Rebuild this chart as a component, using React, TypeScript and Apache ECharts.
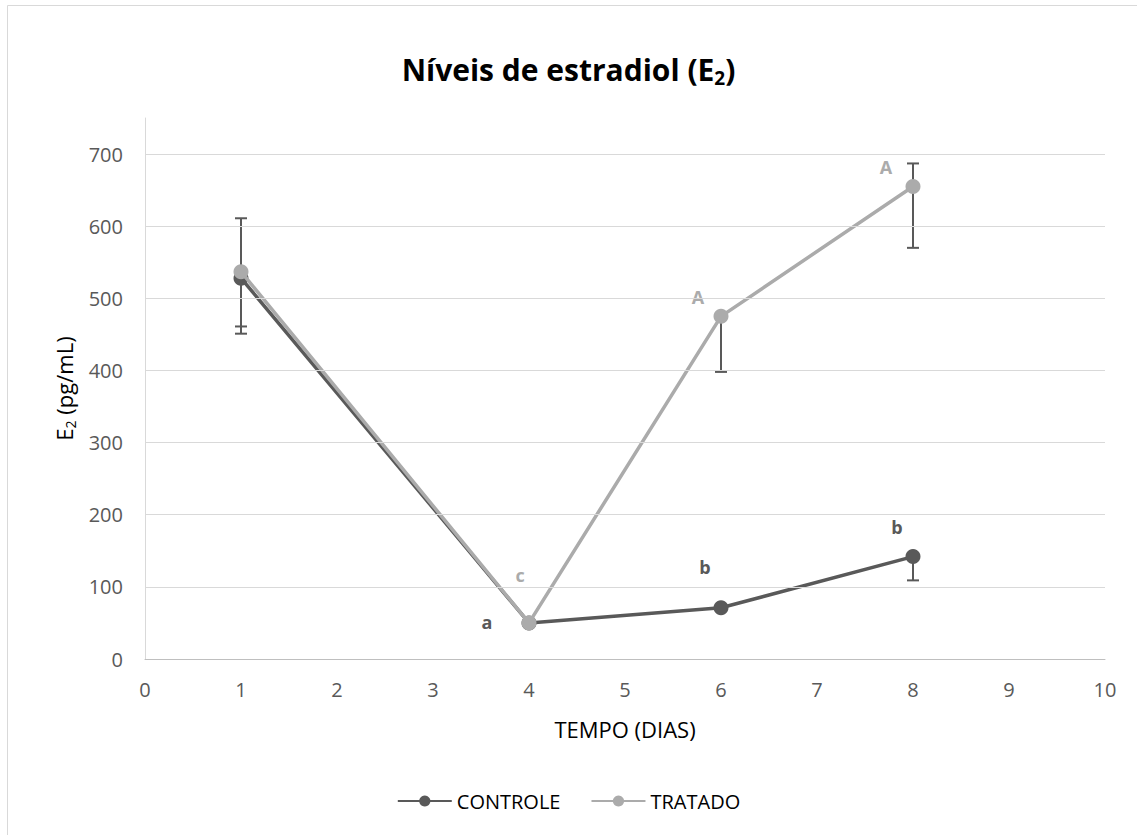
import React, { useEffect, useRef } from "react";
import * as echarts from "echarts";

const days = [1, 4, 6, 8];
const controleValues = [528, 50, 71, 142];
const tratadoValues = [537, 50, 475, 655];
const controleErrLow = [451, 50, 71, 109];
const controleErrHigh = [528, 50, 71, 142];
const tratadoErrLow = [461, 50, 398, 570];
const tratadoErrHigh = [611, 50, 475, 687];
const controleLetters = ["", "a", "b", "b"];
const tratadoLetters = ["", "c", "A", "A"];
const yGridValues = [100, 200, 300, 400, 500, 600, 700];

const DARK = "#595959";
const LIGHT = "#ABABAB";
const FONT = "Open Sans";

// label placement (style only)
const controleLabelOffsets = [[0, 0], [-42, -1], [-16, -41], [-16, -30]];
const tratadoLabelOffsets = [[0, 0], [-9, -48], [-23, -19], [-27, -20]];

function buildLine(values: number[], letters: string[], offsets: number[][], color: string) {
  return values.map((v, i) => ({
    value: [days[i], v],
    label: {
      show: letters[i] !== "",
      formatter: letters[i],
      position: "inside",
      offset: offsets[i],
      color,
      fontWeight: "bold",
      fontSize: 18,
      fontFamily: FONT,
    },
  }));
}

function errData(values: number[], low: number[], high: number[]) {
  return values.map((v, i) => [days[i], v, low[i], high[i]]);
}

function errRender(params: any, api: any) {
  const x = api.value(0);
  const v = api.value(1);
  const lo = api.value(2);
  const hi = api.value(3);
  const pv = api.coord([x, v]);
  const pl = api.coord([x, lo]);
  const ph = api.coord([x, hi]);
  const half = 6;
  const style = { stroke: DARK, lineWidth: 2 };
  const children: any[] = [];
  if (lo !== v) {
    children.push({ type: "line", shape: { x1: pv[0], y1: pv[1], x2: pl[0], y2: pl[1] }, style });
    children.push({ type: "line", shape: { x1: pl[0] - half, y1: pl[1], x2: pl[0] + half, y2: pl[1] }, style });
  }
  if (hi !== v) {
    children.push({ type: "line", shape: { x1: pv[0], y1: pv[1], x2: ph[0], y2: ph[1] }, style });
    children.push({ type: "line", shape: { x1: ph[0] - half, y1: ph[1], x2: ph[0] + half, y2: ph[1] }, style });
  }
  return { type: "group", children };
}

export default function App() {
  const ref = useRef<HTMLDivElement>(null);
  useEffect(() => {
    if (!ref.current) return;
    const chart = echarts.init(ref.current, null, { renderer: "svg" });
    chart.setOption({
      animation: false,
      backgroundColor: "#ffffff",
      textStyle: { fontFamily: FONT },
      graphic: [
        {
          type: "rect",
          shape: { x: 7.5, y: 5.5, width: 1200, height: 900 },
          style: { fill: "none", stroke: "#D9D9D9", lineWidth: 1 },
          silent: true,
        },
      ],
      title: {
        text: "Níveis de estradiol (E{sub|2})",
        left: "center",
        top: 46,
        textStyle: {
          fontFamily: FONT,
          fontSize: 30,
          fontWeight: "bold",
          color: "#000000",
          rich: {
            sub: { fontFamily: FONT, fontSize: 19, fontWeight: "bold", color: "#000000", padding: [17, 0, 0, 0] },
          },
        },
      },
      legend: {
        bottom: 19,
        left: "center",
        itemWidth: 54,
        itemHeight: 14,
        itemGap: 30,
        textStyle: { fontFamily: FONT, fontSize: 20, color: "#000000" },
        data: ["CONTROLE", "TRATADO"],
      },
      grid: { left: 145, right: 32, top: 118, bottom: 176 },
      xAxis: {
        type: "value",
        min: 0,
        max: 10,
        interval: 1,
        name: "TEMPO (DIAS)",
        nameLocation: "middle",
        nameGap: 59,
        nameTextStyle: { fontFamily: FONT, fontSize: 22, color: "#000000" },
        axisLine: { show: true, lineStyle: { color: "#BFBFBF", width: 1 } },
        axisTick: { show: false },
        axisLabel: { fontFamily: FONT, fontSize: 20, color: DARK, margin: 20 },
        splitLine: { show: false },
      },
      yAxis: {
        type: "value",
        min: 0,
        max: 750,
        interval: 100,
        name: "E{sub|2} (pg/mL)",
        nameLocation: "middle",
        nameGap: 68,
        nameTextStyle: {
          fontFamily: FONT,
          fontSize: 22,
          color: "#000000",
          rich: { sub: { fontFamily: FONT, fontSize: 14, color: "#000000", padding: [12, 0, 0, 0] } },
        },
        axisLine: { show: true, lineStyle: { color: "#D9D9D9", width: 1 } },
        axisTick: { show: false },
        axisLabel: { fontFamily: FONT, fontSize: 20, color: DARK, margin: 22, showMaxLabel: false },
        splitLine: { show: false },
      },
      series: [
        {
          name: "grid",
          type: "line",
          data: [],
          silent: true,
          z: 0,
          markLine: {
            silent: true,
            symbol: "none",
            label: { show: false },
            lineStyle: { color: "#D9D9D9", width: 1, type: "solid" },
            data: yGridValues.map((v) => ({ yAxis: v })),
          },
        },
        {
          name: "errControle",
          type: "custom",
          renderItem: errRender,
          data: errData(controleValues, controleErrLow, controleErrHigh),
          z: 1,
          silent: true,
        },
        {
          name: "errTratado",
          type: "custom",
          renderItem: errRender,
          data: errData(tratadoValues, tratadoErrLow, tratadoErrHigh),
          z: 1,
          silent: true,
        },
        {
          name: "CONTROLE",
          type: "line",
          data: buildLine(controleValues, controleLetters, controleLabelOffsets, DARK),
          symbol: "circle",
          symbolSize: 15,
          lineStyle: { color: DARK, width: 3.5 },
          itemStyle: { color: DARK },
          z: 3,
        },
        {
          name: "TRATADO",
          type: "line",
          data: buildLine(tratadoValues, tratadoLetters, tratadoLabelOffsets, LIGHT),
          symbol: "circle",
          symbolSize: 15,
          lineStyle: { color: LIGHT, width: 3.5 },
          itemStyle: { color: LIGHT },
          z: 4,
        },
      ],
    });
    return () => chart.dispose();
  }, []);
  return (
    <div
      ref={ref}
      style={{ position: "fixed", left: 0, top: 0, width: 1137, height: 835 }}
    />
  );
}
